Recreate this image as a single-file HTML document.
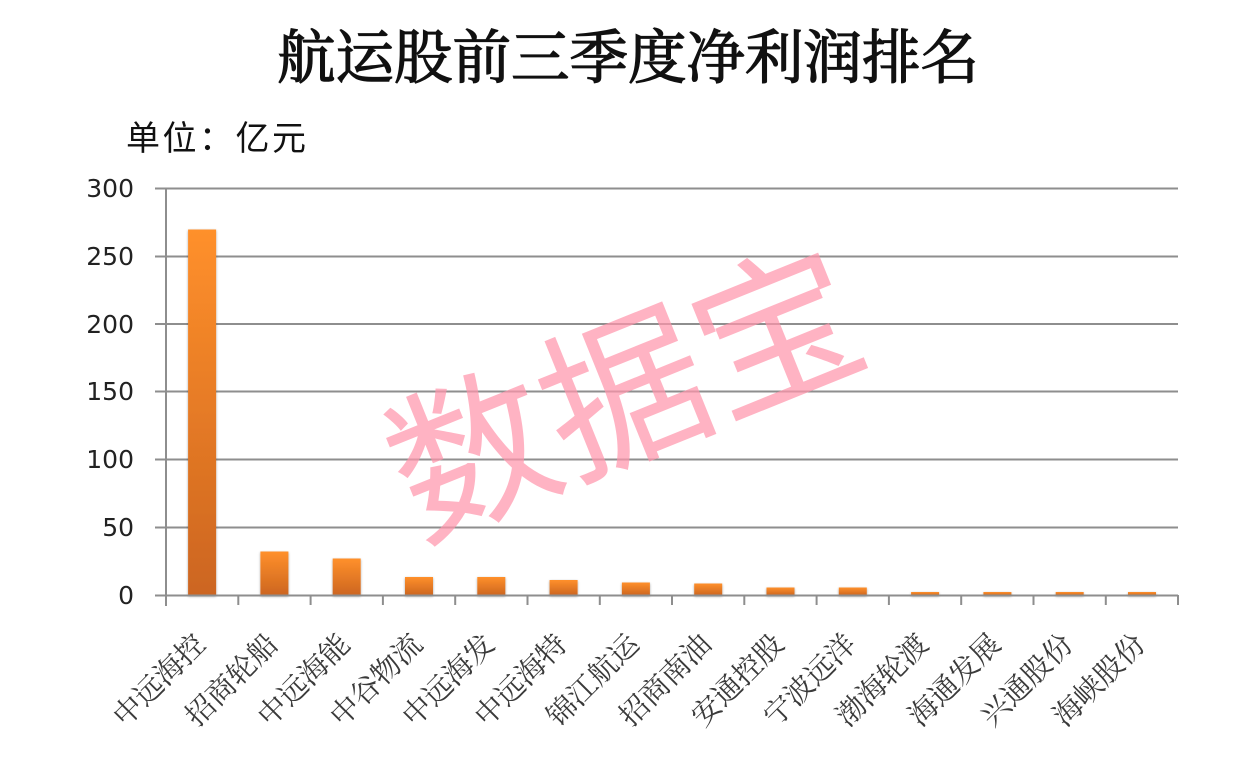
<!DOCTYPE html>
<html>
<head>
<meta charset="utf-8">
<style>
html,body{margin:0;padding:0;background:#fff;}
body{width:1260px;height:769px;overflow:hidden;}
svg{display:block;}
</style>
</head>
<body>
<svg width="1260" height="769" viewBox="0 0 1260 769" xmlns="http://www.w3.org/2000/svg">
<defs>
<linearGradient id="bg" x1="0" y1="0" x2="0" y2="1">
<stop offset="0" stop-color="#FF902B"/>
<stop offset="1" stop-color="#CC6520"/>
</linearGradient>
<filter id="sh" x="-20%" y="-5%" width="140%" height="115%">
<feGaussianBlur in="SourceAlpha" stdDeviation="1.2"/>
<feOffset dx="0" dy="1" result="b"/>
<feComponentTransfer><feFuncA type="linear" slope="0.35"/></feComponentTransfer>
<feMerge><feMergeNode/><feMergeNode in="SourceGraphic"/></feMerge>
</filter>
</defs>
<rect width="1260" height="769" fill="#fff"/>

<!-- Title -->
<text x="628" y="78" text-anchor="middle" font-family="'Liberation Serif','Noto Serif CJK SC',serif" font-size="58.5" fill="#111" stroke="#111" stroke-width="1.3">航运股前三季度净利润排名</text>
<text x="126" y="150" font-family="'Liberation Sans','Noto Sans CJK SC',sans-serif" font-size="34" letter-spacing="2.5" fill="#111">单位：亿元</text>

<!-- gridlines -->
<g stroke="#8e8e8e" stroke-width="2">
<line x1="155" y1="188.5" x2="1178" y2="188.5"/>
<line x1="155" y1="256.5" x2="1178" y2="256.5"/>
<line x1="155" y1="324" x2="1178" y2="324"/>
<line x1="155" y1="391.5" x2="1178" y2="391.5"/>
<line x1="155" y1="459.5" x2="1178" y2="459.5"/>
<line x1="155" y1="527.5" x2="1178" y2="527.5"/>
</g>

<!-- watermark -->
<text x="628" y="452" text-anchor="middle" transform="rotate(-22 628 402)" font-family="'Noto Sans CJK SC',sans-serif" font-size="164" fill="rgb(255,150,172)" fill-opacity="0.72">数据宝</text>

<!-- y labels -->
<g font-family="'DejaVu Sans',sans-serif" font-size="25" fill="#222" text-anchor="end">
<text x="134" y="197">300</text>
<text x="134" y="265">250</text>
<text x="134" y="333">200</text>
<text x="134" y="400">150</text>
<text x="134" y="468">100</text>
<text x="134" y="536">50</text>
<text x="134" y="604">0</text>
</g>

<!-- bars -->
<g fill="url(#bg)" filter="url(#sh)">
<rect x="188.1" y="229.5" width="28" height="366"/>
<rect x="260.4" y="551.5" width="28" height="44"/>
<rect x="332.7" y="558.5" width="28" height="37"/>
<rect x="405" y="577" width="28" height="18.5"/>
<rect x="477.3" y="577" width="28" height="18.5"/>
<rect x="549.6" y="580" width="28" height="15.5"/>
<rect x="621.9" y="582.5" width="28" height="13"/>
<rect x="694.2" y="583.5" width="28" height="12"/>
<rect x="766.5" y="587.5" width="28" height="8"/>
<rect x="838.8" y="587.5" width="28" height="8"/>
<rect x="911.1" y="592" width="28" height="3.5"/>
<rect x="983.4" y="592" width="28" height="3.5"/>
<rect x="1055.7" y="592" width="28" height="3.5"/>
<rect x="1128" y="592" width="28" height="3.5"/>
</g>

<!-- axes -->
<g stroke="#8e8e8e" stroke-width="2">
<line x1="155" y1="595.5" x2="1178" y2="595.5"/>
<line x1="166" y1="188" x2="166" y2="606"/>
<line x1="238.3" y1="595" x2="238.3" y2="605"/>
<line x1="310.6" y1="595" x2="310.6" y2="605"/>
<line x1="382.9" y1="595" x2="382.9" y2="605"/>
<line x1="455.2" y1="595" x2="455.2" y2="605"/>
<line x1="527.5" y1="595" x2="527.5" y2="605"/>
<line x1="599.8" y1="595" x2="599.8" y2="605"/>
<line x1="672" y1="595" x2="672" y2="605"/>
<line x1="744.3" y1="595" x2="744.3" y2="605"/>
<line x1="816.6" y1="595" x2="816.6" y2="605"/>
<line x1="888.9" y1="595" x2="888.9" y2="605"/>
<line x1="961.2" y1="595" x2="961.2" y2="605"/>
<line x1="1033.5" y1="595" x2="1033.5" y2="605"/>
<line x1="1105.8" y1="595" x2="1105.8" y2="605"/>
<line x1="1178" y1="595" x2="1178" y2="605"/>
</g>

<!-- x labels -->
<g font-family="'Liberation Serif','Noto Serif CJK SC',serif" font-size="29" fill="#3a3a3a" text-anchor="end">
<text transform="translate(207,646) rotate(-45)">中远海控</text>
<text transform="translate(279.4,646) rotate(-45)">招商轮船</text>
<text transform="translate(351.7,646) rotate(-45)">中远海能</text>
<text transform="translate(424,646) rotate(-45)">中谷物流</text>
<text transform="translate(496.3,646) rotate(-45)">中远海发</text>
<text transform="translate(568.6,646) rotate(-45)">中远海特</text>
<text transform="translate(640.9,646) rotate(-45)">锦江航运</text>
<text transform="translate(713.2,646) rotate(-45)">招商南油</text>
<text transform="translate(785.5,646) rotate(-45)">安通控股</text>
<text transform="translate(857.8,646) rotate(-45)">宁波远洋</text>
<text transform="translate(930.1,646) rotate(-45)">渤海轮渡</text>
<text transform="translate(1002.4,646) rotate(-45)">海通发展</text>
<text transform="translate(1074.7,646) rotate(-45)">兴通股份</text>
<text transform="translate(1147,646) rotate(-45)">海峡股份</text>
</g>
</svg>
</body>
</html>
